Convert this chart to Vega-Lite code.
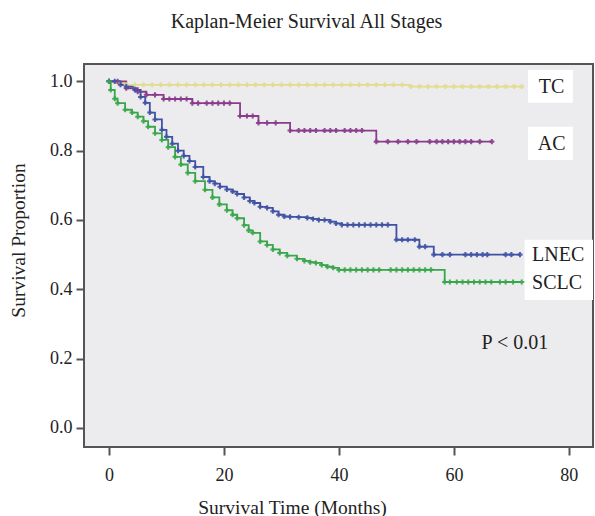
{
  "$schema": "https://vega.github.io/schema/vega-lite/v6.json",
  "autosize": "none",
  "width": 509,
  "height": 383,
  "padding": {"left": 84, "top": 64, "right": 2, "bottom": 69},
  "background": "white",
  "title": {"text": "Kaplan-Meier Survival All Stages", "font": "Liberation Serif", "fontSize": 20, "fontWeight": "normal", "color": "#222222", "offset": 32, "dx": -32},
  "config": {
    "view": {"fill": "#ececee", "stroke": "#555555", "strokeWidth": 2},
    "axis": {"domain": false, "grid": false, "tickColor": "#555555", "tickWidth": 2, "tickSize": 8, "labelFont": "Liberation Serif", "labelFontSize": 18, "labelColor": "#222222", "titleFont": "Liberation Serif", "titleFontSize": 19.5, "titleFontWeight": "normal", "titleColor": "#222222"}
  },
  "datasets": {
    "curves": [
      {"g":"TC","t":0,"s":1.0},{"g":"TC","t":1.5,"s":0.995},{"g":"TC","t":3,"s":0.99},{"g":"TC","t":4.5,"s":0.99},{"g":"TC","t":6,"s":0.99},{"g":"TC","t":7.5,"s":0.99},{"g":"TC","t":9,"s":0.99},{"g":"TC","t":10.5,"s":0.99},{"g":"TC","t":12,"s":0.99},{"g":"TC","t":13.5,"s":0.99},{"g":"TC","t":15,"s":0.99},{"g":"TC","t":16.5,"s":0.99},{"g":"TC","t":18,"s":0.99},{"g":"TC","t":19.5,"s":0.99},{"g":"TC","t":21,"s":0.99},{"g":"TC","t":22.5,"s":0.99},{"g":"TC","t":24,"s":0.99},{"g":"TC","t":25.5,"s":0.99},{"g":"TC","t":27,"s":0.99},{"g":"TC","t":28.5,"s":0.99},{"g":"TC","t":30,"s":0.99},{"g":"TC","t":31.5,"s":0.99},{"g":"TC","t":33,"s":0.99},{"g":"TC","t":34.5,"s":0.99},{"g":"TC","t":36,"s":0.99},{"g":"TC","t":37.5,"s":0.99},{"g":"TC","t":39,"s":0.99},{"g":"TC","t":40.5,"s":0.99},{"g":"TC","t":42,"s":0.99},{"g":"TC","t":43.5,"s":0.99},{"g":"TC","t":45,"s":0.99},{"g":"TC","t":46.5,"s":0.99},{"g":"TC","t":48,"s":0.99},{"g":"TC","t":49.5,"s":0.99},{"g":"TC","t":51,"s":0.99},{"g":"TC","t":52.5,"s":0.985},{"g":"TC","t":54,"s":0.985},{"g":"TC","t":55.5,"s":0.985},{"g":"TC","t":57,"s":0.985},{"g":"TC","t":58.5,"s":0.985},{"g":"TC","t":60,"s":0.985},{"g":"TC","t":61.5,"s":0.985},{"g":"TC","t":63,"s":0.985},{"g":"TC","t":64.5,"s":0.985},{"g":"TC","t":66,"s":0.985},{"g":"TC","t":67.5,"s":0.985},{"g":"TC","t":69,"s":0.985},{"g":"TC","t":70.5,"s":0.985},{"g":"TC","t":71.8,"s":0.985},
      {"g":"AC","t":0,"s":1.0},{"g":"AC","t":1.5,"s":1.0},{"g":"AC","t":3,"s":0.98},{"g":"AC","t":5,"s":0.97},{"g":"AC","t":6.5,"s":0.961},{"g":"AC","t":8,"s":0.961},{"g":"AC","t":9.5,"s":0.949},{"g":"AC","t":10.5,"s":0.949},{"g":"AC","t":11.5,"s":0.949},{"g":"AC","t":12.5,"s":0.949},{"g":"AC","t":13.5,"s":0.949},{"g":"AC","t":14.5,"s":0.937},{"g":"AC","t":15.5,"s":0.937},{"g":"AC","t":17,"s":0.937},{"g":"AC","t":18,"s":0.937},{"g":"AC","t":19,"s":0.937},{"g":"AC","t":20,"s":0.937},{"g":"AC","t":21,"s":0.937},{"g":"AC","t":22.8,"s":0.9},{"g":"AC","t":24,"s":0.9},{"g":"AC","t":25,"s":0.9},{"g":"AC","t":26,"s":0.88},{"g":"AC","t":27.5,"s":0.88},{"g":"AC","t":29,"s":0.88},{"g":"AC","t":31.5,"s":0.858},{"g":"AC","t":33,"s":0.858},{"g":"AC","t":34,"s":0.858},{"g":"AC","t":35,"s":0.858},{"g":"AC","t":36,"s":0.858},{"g":"AC","t":37.5,"s":0.858},{"g":"AC","t":38.5,"s":0.858},{"g":"AC","t":39.5,"s":0.858},{"g":"AC","t":41,"s":0.858},{"g":"AC","t":42,"s":0.858},{"g":"AC","t":43,"s":0.858},{"g":"AC","t":44,"s":0.858},{"g":"AC","t":46.5,"s":0.826},{"g":"AC","t":48.5,"s":0.826},{"g":"AC","t":50.3,"s":0.826},{"g":"AC","t":52,"s":0.826},{"g":"AC","t":53.5,"s":0.826},{"g":"AC","t":55.8,"s":0.826},{"g":"AC","t":57,"s":0.826},{"g":"AC","t":58,"s":0.826},{"g":"AC","t":59,"s":0.826},{"g":"AC","t":60,"s":0.826},{"g":"AC","t":61,"s":0.826},{"g":"AC","t":62,"s":0.826},{"g":"AC","t":63,"s":0.826},{"g":"AC","t":64.5,"s":0.826},{"g":"AC","t":66.6,"s":0.826},
      {"g":"LNEC","t":0,"s":1.0},{"g":"LNEC","t":1,"s":1.0},{"g":"LNEC","t":2,"s":0.99},{"g":"LNEC","t":3,"s":0.985},{"g":"LNEC","t":4.5,"s":0.975},{"g":"LNEC","t":5.5,"s":0.955},{"g":"LNEC","t":6.3,"s":0.938},{"g":"LNEC","t":7.1,"s":0.91},{"g":"LNEC","t":8,"s":0.89},{"g":"LNEC","t":9.2,"s":0.86},{"g":"LNEC","t":10,"s":0.84},{"g":"LNEC","t":11,"s":0.82},{"g":"LNEC","t":12,"s":0.8},{"g":"LNEC","t":13,"s":0.785},{"g":"LNEC","t":14,"s":0.77},{"g":"LNEC","t":15,"s":0.753},{"g":"LNEC","t":16.4,"s":0.724},{"g":"LNEC","t":17.5,"s":0.712},{"g":"LNEC","t":18.4,"s":0.705},{"g":"LNEC","t":19.3,"s":0.696},{"g":"LNEC","t":20.5,"s":0.688},{"g":"LNEC","t":21.5,"s":0.682},{"g":"LNEC","t":22.3,"s":0.675},{"g":"LNEC","t":23.5,"s":0.665},{"g":"LNEC","t":24.5,"s":0.655},{"g":"LNEC","t":25.3,"s":0.649},{"g":"LNEC","t":26.3,"s":0.638},{"g":"LNEC","t":27.5,"s":0.635},{"g":"LNEC","t":28.5,"s":0.625},{"g":"LNEC","t":29.5,"s":0.615},{"g":"LNEC","t":30.5,"s":0.61},{"g":"LNEC","t":31.5,"s":0.609},{"g":"LNEC","t":33,"s":0.608},{"g":"LNEC","t":34.5,"s":0.606},{"g":"LNEC","t":35.5,"s":0.603},{"g":"LNEC","t":36.5,"s":0.6},{"g":"LNEC","t":37.5,"s":0.6},{"g":"LNEC","t":38.5,"s":0.595},{"g":"LNEC","t":39.5,"s":0.59},{"g":"LNEC","t":40.5,"s":0.586},{"g":"LNEC","t":41.5,"s":0.586},{"g":"LNEC","t":42.5,"s":0.586},{"g":"LNEC","t":43.5,"s":0.586},{"g":"LNEC","t":44.5,"s":0.586},{"g":"LNEC","t":45.5,"s":0.586},{"g":"LNEC","t":46.5,"s":0.586},{"g":"LNEC","t":47.5,"s":0.586},{"g":"LNEC","t":48.5,"s":0.586},{"g":"LNEC","t":50,"s":0.543},{"g":"LNEC","t":51,"s":0.543},{"g":"LNEC","t":52,"s":0.543},{"g":"LNEC","t":53.2,"s":0.543},{"g":"LNEC","t":54,"s":0.523},{"g":"LNEC","t":55,"s":0.523},{"g":"LNEC","t":56.5,"s":0.5},{"g":"LNEC","t":58,"s":0.5},{"g":"LNEC","t":59.3,"s":0.5},{"g":"LNEC","t":62,"s":0.5},{"g":"LNEC","t":63,"s":0.5},{"g":"LNEC","t":64,"s":0.5},{"g":"LNEC","t":65,"s":0.5},{"g":"LNEC","t":65.8,"s":0.5},{"g":"LNEC","t":69,"s":0.5},{"g":"LNEC","t":70,"s":0.5},{"g":"LNEC","t":71.5,"s":0.5},
      {"g":"SCLC","t":0,"s":1.0},{"g":"SCLC","t":0.3,"s":0.975},{"g":"SCLC","t":1,"s":0.95},{"g":"SCLC","t":1.5,"s":0.937},{"g":"SCLC","t":2.8,"s":0.918},{"g":"SCLC","t":4,"s":0.91},{"g":"SCLC","t":5,"s":0.898},{"g":"SCLC","t":6,"s":0.885},{"g":"SCLC","t":6.8,"s":0.869},{"g":"SCLC","t":8,"s":0.85},{"g":"SCLC","t":9.2,"s":0.831},{"g":"SCLC","t":10.3,"s":0.81},{"g":"SCLC","t":11.5,"s":0.782},{"g":"SCLC","t":12.5,"s":0.76},{"g":"SCLC","t":13.7,"s":0.736},{"g":"SCLC","t":15,"s":0.712},{"g":"SCLC","t":16.7,"s":0.687},{"g":"SCLC","t":18,"s":0.665},{"g":"SCLC","t":19.2,"s":0.645},{"g":"SCLC","t":20.5,"s":0.628},{"g":"SCLC","t":21.5,"s":0.615},{"g":"SCLC","t":22.3,"s":0.605},{"g":"SCLC","t":23.5,"s":0.585},{"g":"SCLC","t":24.3,"s":0.57},{"g":"SCLC","t":25,"s":0.563},{"g":"SCLC","t":26.3,"s":0.538},{"g":"SCLC","t":27.5,"s":0.528},{"g":"SCLC","t":28.5,"s":0.515},{"g":"SCLC","t":29.7,"s":0.505},{"g":"SCLC","t":31,"s":0.497},{"g":"SCLC","t":32.7,"s":0.488},{"g":"SCLC","t":34,"s":0.482},{"g":"SCLC","t":35,"s":0.478},{"g":"SCLC","t":36,"s":0.476},{"g":"SCLC","t":37,"s":0.47},{"g":"SCLC","t":38,"s":0.465},{"g":"SCLC","t":39,"s":0.462},{"g":"SCLC","t":40,"s":0.456},{"g":"SCLC","t":41,"s":0.456},{"g":"SCLC","t":42,"s":0.456},{"g":"SCLC","t":43,"s":0.456},{"g":"SCLC","t":44,"s":0.456},{"g":"SCLC","t":45,"s":0.456},{"g":"SCLC","t":46,"s":0.456},{"g":"SCLC","t":47,"s":0.456},{"g":"SCLC","t":49,"s":0.456},{"g":"SCLC","t":50,"s":0.456},{"g":"SCLC","t":51,"s":0.456},{"g":"SCLC","t":52,"s":0.456},{"g":"SCLC","t":53,"s":0.456},{"g":"SCLC","t":54,"s":0.456},{"g":"SCLC","t":55,"s":0.456},{"g":"SCLC","t":56,"s":0.456},{"g":"SCLC","t":58.4,"s":0.421},{"g":"SCLC","t":59.3,"s":0.421},{"g":"SCLC","t":60.5,"s":0.421},{"g":"SCLC","t":61.5,"s":0.421},{"g":"SCLC","t":62.5,"s":0.421},{"g":"SCLC","t":63.5,"s":0.421},{"g":"SCLC","t":64.5,"s":0.421},{"g":"SCLC","t":65.5,"s":0.421},{"g":"SCLC","t":66.5,"s":0.421},{"g":"SCLC","t":68,"s":0.421},{"g":"SCLC","t":69,"s":0.421},{"g":"SCLC","t":70.3,"s":0.421},{"g":"SCLC","t":71.8,"s":0.421}
    ],
    "boxes": [
      {"x1":72.9,"x2":80.7,"y1":0.938,"y2":1.033},
      {"x1":72.9,"x2":80.7,"y1":0.773,"y2":0.869},
      {"x1":72.3,"x2":84.2,"y1":0.369,"y2":0.543}
    ],
    "labels": [
      {"label":"TC","t":77,"s":0.985,"a":"center"},
      {"label":"AC","t":77,"s":0.818,"a":"center"},
      {"label":"LNEC","t":73.6,"s":0.5,"a":"left"},
      {"label":"SCLC","t":73.6,"s":0.418,"a":"left"},
      {"label":"P < 0.01","t":70.6,"s":0.245,"a":"center"}
    ]
  },
  "layer": [
    {
      "data": {"name": "boxes"},
      "mark": {"type": "rect", "fill": "white", "stroke": null},
      "encoding": {
        "x": {"field": "x1", "type": "quantitative", "scale": {"domain": [-4.35, 84.2], "nice": false, "zero": false}},
        "x2": {"field": "x2"},
        "y": {"field": "y1", "type": "quantitative", "scale": {"domain": [-0.055, 1.05], "nice": false, "zero": false}},
        "y2": {"field": "y2"}
      }
    },
    {
      "data": {"name": "curves"},
      "mark": {"type": "line", "interpolate": "step-after", "strokeWidth": 1.8},
      "encoding": {
        "x": {"field": "t", "type": "quantitative", "scale": {"domain": [-4.35, 84.2], "nice": false, "zero": false},
              "axis": {"values": [0, 20, 40, 60, 80], "title": "Survival Time (Months)", "labelPadding": 11, "titleX": 208, "titleY": 60, "titleBaseline": "middle"}},
        "y": {"field": "s", "type": "quantitative", "scale": {"domain": [-0.055, 1.05], "nice": false, "zero": false},
              "axis": {"values": [0, 0.2, 0.4, 0.6, 0.8, 1.0], "format": ".1f", "title": "Survival Proportion", "labelPadding": 4, "titleX": -66, "titleY": 176, "titleBaseline": "middle", "titleAngle": -90}},
        "color": {"field": "g", "type": "nominal", "legend": null, "scale": {"domain": ["TC", "AC", "LNEC", "SCLC"], "range": ["#e2dc8e", "#8a3c8c", "#3f52a4", "#38a64a"]}}
      }
    },
    {
      "data": {"name": "curves"},
      "mark": {"type": "point", "shape": "cross", "filled": true, "size": 26, "opacity": 0.9},
      "encoding": {
        "x": {"field": "t", "type": "quantitative"},
        "y": {"field": "s", "type": "quantitative"},
        "color": {"field": "g", "type": "nominal", "legend": null, "scale": {"domain": ["TC", "AC", "LNEC", "SCLC"], "range": ["#d6cd72", "#7e2f80", "#334597", "#2f9a40"]}}
      }
    },
    {
      "data": {"name": "labels"},
      "transform": [{"filter": "datum.a === 'center'"}],
      "mark": {"type": "text", "font": "Liberation Serif", "fontSize": 20, "color": "#222222", "baseline": "middle", "align": "center"},
      "encoding": {
        "x": {"field": "t", "type": "quantitative"},
        "y": {"field": "s", "type": "quantitative"},
        "text": {"field": "label"}
      }
    },
    {
      "data": {"name": "labels"},
      "transform": [{"filter": "datum.a === 'left'"}],
      "mark": {"type": "text", "font": "Liberation Serif", "fontSize": 20, "color": "#222222", "baseline": "middle", "align": "left"},
      "encoding": {
        "x": {"field": "t", "type": "quantitative"},
        "y": {"field": "s", "type": "quantitative"},
        "text": {"field": "label"}
      }
    }
  ]
}
